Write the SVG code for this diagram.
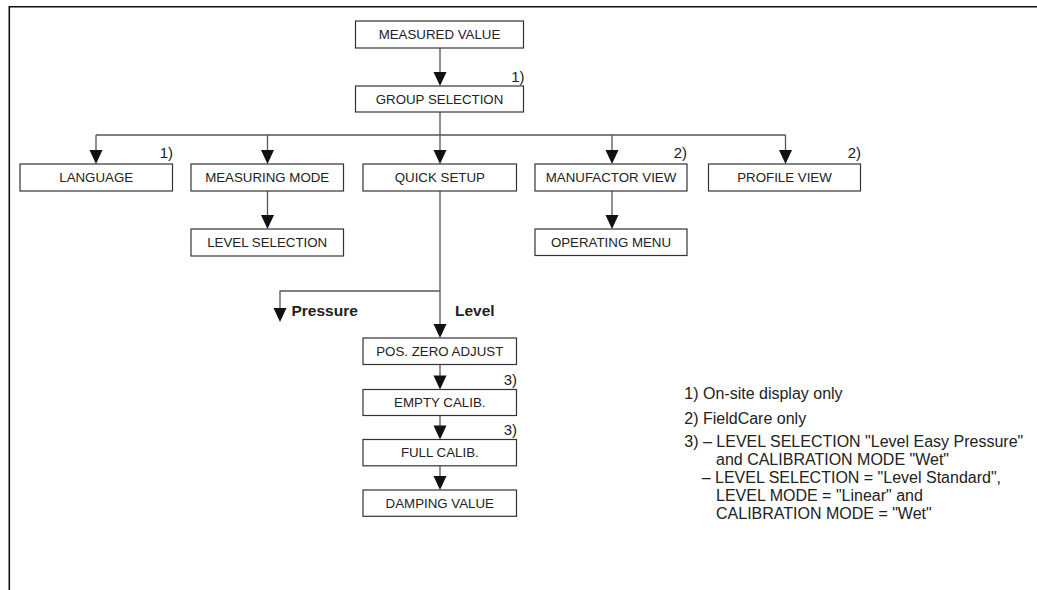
<svg xmlns="http://www.w3.org/2000/svg" width="1037" height="590" viewBox="0 0 1037 590">
<style>
.box{fill:#fff;stroke:#333;stroke-width:1.2}
.bt{font-family:"Liberation Sans",Arial,sans-serif;font-size:13.3px;fill:#222;text-anchor:middle}
.fn{font-family:"Liberation Sans",Arial,sans-serif;font-size:15px;fill:#222;text-anchor:end}
.lg{font-family:"Liberation Sans",Arial,sans-serif;font-size:16px;fill:#222}
.bl{font-family:"Liberation Sans",Arial,sans-serif;font-size:15.5px;font-weight:bold;fill:#222}
.ln{fill:none;stroke:#555;stroke-width:1.3}
.frame{fill:none;stroke:#111;stroke-width:1.6}
</style>
<defs>
<path id="ah" d="M-6.5,-14 L6.5,-14 L0,0 Z" fill="#111"/>
</defs>
<rect width="1037" height="590" fill="#fff"/>
<path class="frame" d="M9.3,590 L9.3,6.7 L1037,6.7"/>

<g id="connectors">
<path class="ln" d="M440,47.7 V74"/>
<use href="#ah" x="440" y="86"/>
<path class="ln" d="M440,112 V152"/>
<path class="ln" d="M96,135 H785.5"/>
<path class="ln" d="M96,135 V152 M267.5,135 V152 M612,135 V152 M785.5,135 V152"/>
<use href="#ah" x="96" y="164"/>
<use href="#ah" x="267.5" y="164"/>
<use href="#ah" x="440" y="164"/>
<use href="#ah" x="612" y="164"/>
<use href="#ah" x="785.5" y="164"/>
<path class="ln" d="M267.5,191 V217"/>
<use href="#ah" x="267.5" y="229"/>
<path class="ln" d="M612,191 V217"/>
<use href="#ah" x="612" y="229"/>
<path class="ln" d="M440,191 V325"/>
<path class="ln" d="M440,291 H280 V310"/>
<use href="#ah" x="280" y="322"/>
<use href="#ah" x="440" y="338"/>
<path class="ln" d="M440,364.5 V377"/>
<use href="#ah" x="440" y="389.5"/>
<path class="ln" d="M440,415.5 V427"/>
<use href="#ah" x="440" y="439.5"/>
<path class="ln" d="M440,465.8 V478"/>
<use href="#ah" x="440" y="490"/>
<text class="bl" x="291.5" y="315.7">Pressure</text>
<text class="bl" x="455" y="315.7">Level</text>
</g>

<g id="measured-value"><rect class="box" x="355.5" y="21" width="168" height="27"/><text class="bt" x="439.5" y="39.2">MEASURED VALUE</text></g>
<g id="group-selection"><rect class="box" x="355.5" y="86" width="168" height="26"/><text class="bt" x="439.5" y="103.7">GROUP SELECTION</text><text class="fn" x="524.5" y="81.7">1)</text></g>
<g id="language"><rect class="box" x="20" y="164" width="152.5" height="27"/><text class="bt" x="96.2" y="182.2">LANGUAGE</text><text class="fn" x="173" y="158">1)</text></g>
<g id="measuring-mode"><rect class="box" x="191" y="164" width="152.5" height="27"/><text class="bt" x="267.2" y="182.2">MEASURING MODE</text></g>
<g id="quick-setup"><rect class="box" x="363" y="164" width="153.5" height="27"/><text class="bt" x="439.8" y="182.2">QUICK SETUP</text></g>
<g id="manufactor-view"><rect class="box" x="535" y="164" width="152" height="27"/><text class="bt" x="611" y="182.2">MANUFACTOR VIEW</text><text class="fn" x="687" y="158">2)</text></g>
<g id="profile-view"><rect class="box" x="708.5" y="164" width="152" height="27"/><text class="bt" x="784.5" y="182.2">PROFILE VIEW</text><text class="fn" x="861" y="158">2)</text></g>
<g id="level-selection"><rect class="box" x="191" y="229" width="152.5" height="27"/><text class="bt" x="267.2" y="247.2">LEVEL SELECTION</text></g>
<g id="operating-menu"><rect class="box" x="535" y="229" width="152" height="26.5"/><text class="bt" x="611" y="247">OPERATING MENU</text></g>
<g id="pos-zero-adjust"><rect class="box" x="363" y="338" width="153.5" height="26.5"/><text class="bt" x="439.8" y="356">POS. ZERO ADJUST</text></g>
<g id="empty-calib"><rect class="box" x="363" y="389.5" width="153.5" height="26"/><text class="bt" x="439.8" y="407.2">EMPTY CALIB.</text><text class="fn" x="517" y="385">3)</text></g>
<g id="full-calib"><rect class="box" x="363" y="439.5" width="153.5" height="26.3"/><text class="bt" x="439.8" y="457.4">FULL CALIB.</text><text class="fn" x="517" y="435">3)</text></g>
<g id="damping-value"><rect class="box" x="363" y="490" width="153.5" height="26.3"/><text class="bt" x="439.8" y="507.9">DAMPING VALUE</text></g>

<g id="legend">
<text class="lg" x="684.3" y="399">1) On-site display only</text>
<text class="lg" x="684.3" y="423.5">2) FieldCare only</text>
<text class="lg" x="684.3" y="447.3">3) – LEVEL SELECTION "Level Easy Pressure"</text>
<text class="lg" x="716" y="465">and CALIBRATION MODE "Wet"</text>
<text class="lg" x="701.7" y="482.8">– LEVEL SELECTION = "Level Standard",</text>
<text class="lg" x="716" y="500.7">LEVEL MODE = "Linear" and</text>
<text class="lg" x="716" y="518.7">CALIBRATION MODE = "Wet"</text>
</g>
</svg>
